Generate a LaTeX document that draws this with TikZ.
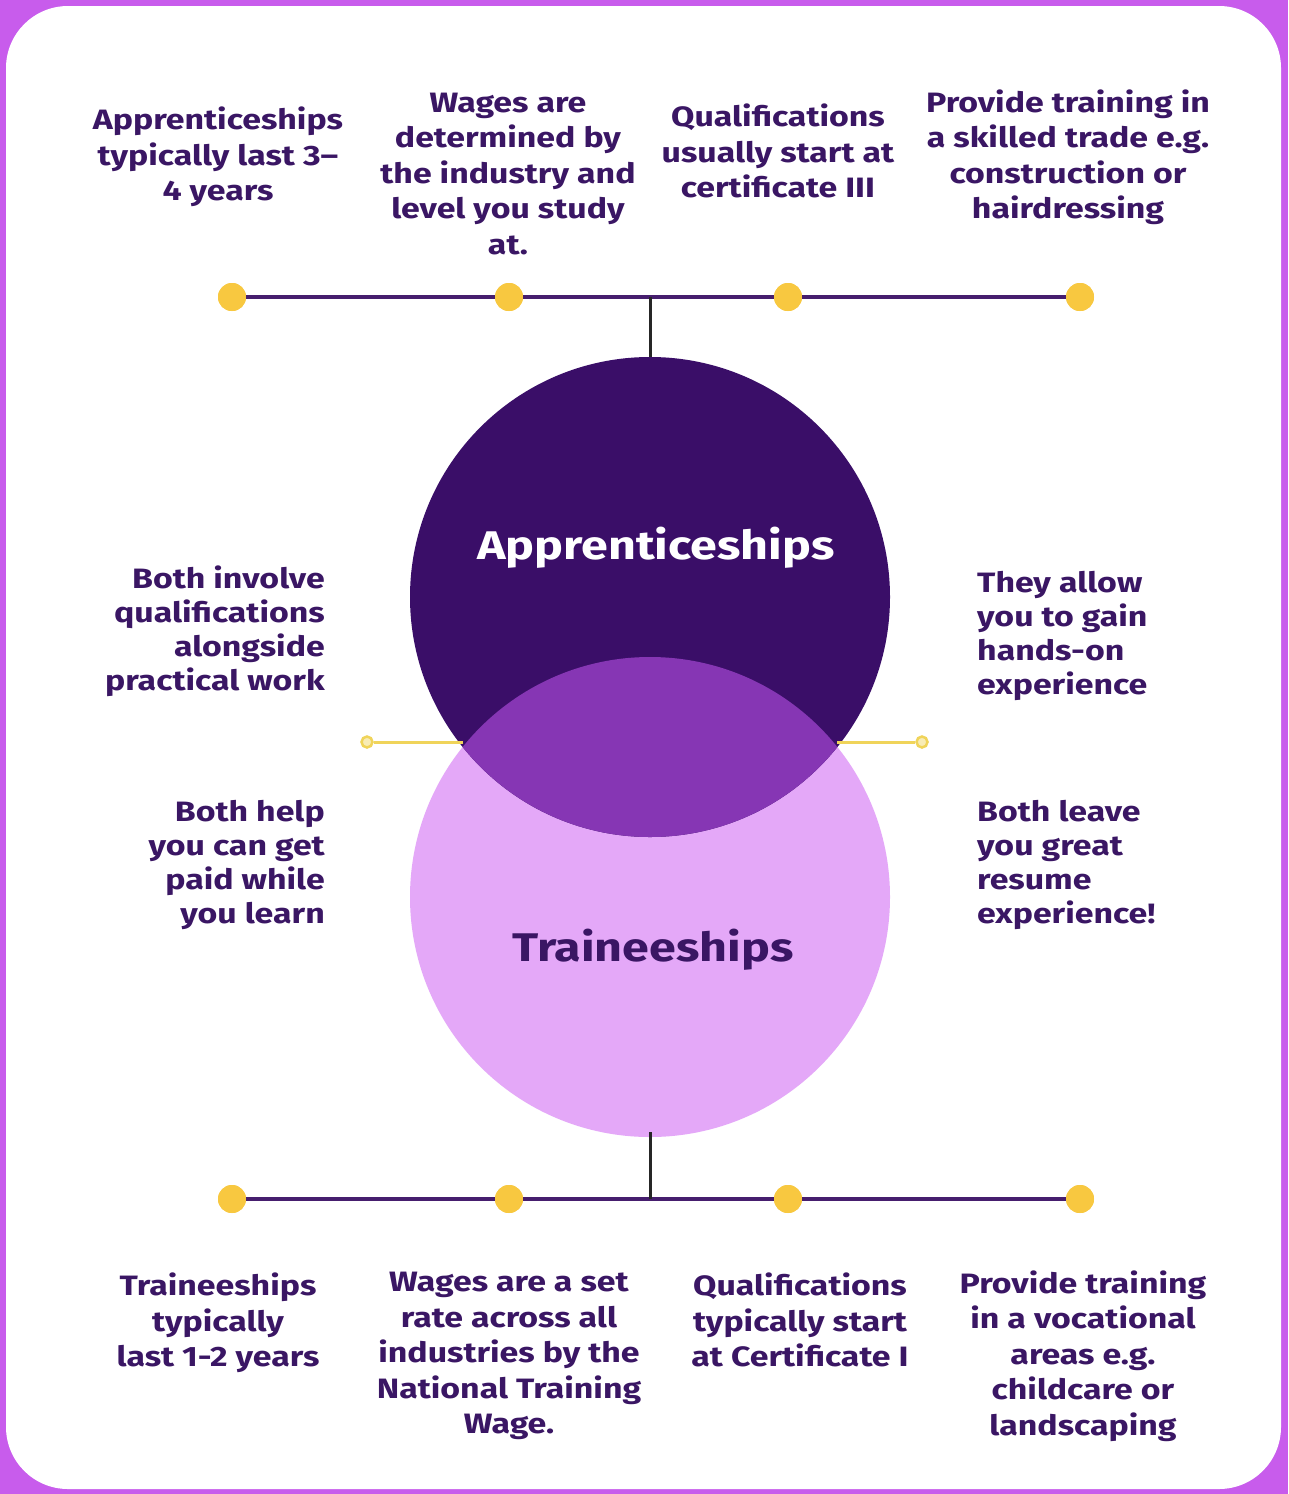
\documentclass[tikz,border=0pt]{standalone}
\usepackage{fontspec}
\setmainfont{Fira Sans}[FakeStretch=1.21]
\begin{document}
\begin{tikzpicture}[x=1pt,y=-1pt,
  txt/.style={text=ink, font=\bfseries\fontsize{28}{35.5}\selectfont, inner sep=0pt, align=center},
  sidetxt/.style={text=ink, font=\bfseries\fontsize{28}{34}\selectfont, inner sep=0pt},
  dot/.style={circle, fill=dotyellow, inner sep=0pt, minimum size=28pt},
  smalldot/.style={circle, draw=sideyellow, fill=sideyellow!45, line width=2.5pt, inner sep=0pt, minimum size=11pt},
  hline/.style={draw=linepurple, line width=4pt},
  vline/.style={draw=black!85, line width=3pt},
  sline/.style={draw=sideyellow, line width=3pt}
]
\definecolor{bgpurple}{RGB}{200,92,236}
\definecolor{ink}{RGB}{58,22,100}
\definecolor{dotyellow}{RGB}{248,200,64}
\definecolor{sideyellow}{RGB}{240,212,90}
\definecolor{linepurple}{RGB}{70,30,110}
\definecolor{darkcirc}{RGB}{58,14,104}
\definecolor{midcirc}{RGB}{134,54,180}
\definecolor{lightcirc}{RGB}{228,168,248}

% background
\fill[bgpurple] (0,0) rectangle (1288,1494);
\fill[white, rounded corners=62pt] (6,6) rectangle (1281,1489);
\useasboundingbox (0,0) rectangle (1288,1494);

% circles
\node[circle, fill=lightcirc, minimum size=480pt, inner sep=0pt] (trn) at (650,897) {};
\node[circle, fill=darkcirc, minimum size=480pt, inner sep=0pt] (app) at (650,597) {};
\begin{scope}
  \clip (650,597) circle (240pt);
  \fill[midcirc] (650,897) circle (240pt);
\end{scope}
\node[text=white, font=\bfseries\fontsize{40}{48}\selectfont, inner sep=0pt] (applbl) at (656,548) {Apprenticeships};
\node[text=ink, font=\bfseries\fontsize{40}{48}\selectfont, inner sep=0pt] (trnlbl) at (653,950) {Traineeships};

% top timeline
\node[dot] (t1) at (232,297) {};
\node[dot] (t2) at (509,297) {};
\node[dot] (t3) at (788,297) {};
\node[dot] (t4) at (1080,297) {};
\coordinate (tj) at (650,297);
\path[hline] (t1) -- (t2) -- (t3) -- (t4);
\path[vline] (tj) -- (app.north);
\node[dot] at (t1) {};
\node[dot] at (t2) {};
\node[dot] at (t3) {};
\node[dot] at (t4) {};

% bottom timeline
\node[dot] (b1) at (232,1199) {};
\node[dot] (b2) at (509,1199) {};
\node[dot] (b3) at (788,1199) {};
\node[dot] (b4) at (1080,1199) {};
\coordinate (bj) at (650,1199);
\path[hline] (b1) -- (b2) -- (b3) -- (b4);
\path[vline] (bj) -- (650,1132);
\node[dot] at (b1) {};
\node[dot] at (b2) {};
\node[dot] at (b3) {};
\node[dot] at (b4) {};

% side connectors
\coordinate (li) at (463,742);
\coordinate (ri) at (837,742);
\node[smalldot] (lc) at (367,742) {};
\node[smalldot] (rc) at (922,742) {};
\path[sline] (lc) -- (li);
\path[sline] (ri) -- (rc);

% top texts
\node[txt] (tt1) at (218,157) {Apprenticeships\\typically last 3--\\4 years};
\node[txt] (tt2) at (508,174) {Wages are\\determined by\\the industry and\\level you study\\at.};
\node[txt] (tt3) at (778,151) {Qualifications\\usually start at\\certificate III};
\node[txt] (tt4) at (1068,157) {Provide training in\\a skilled trade e.g.\\construction or\\hairdressing};

% side texts
\node[sidetxt, align=right, anchor=east] (sl1) at (325,631) {Both involve\\qualifications\\alongside\\practical work};
\node[sidetxt, align=right, anchor=east] (sl2) at (325,865) {Both help\\you can get\\paid while\\you learn};
\node[sidetxt, align=left, anchor=west] (sr1) at (977,636) {They allow\\you to gain\\hands-on\\experience};
\node[sidetxt, align=left, anchor=west] (sr2) at (977,865) {Both leave\\you great\\resume\\experience!};

% bottom texts
\node[txt] (bt1) at (218,1323) {Traineeships\\typically\\last 1-2 years};
\node[txt] (bt2) at (509,1356) {Wages are a set\\rate across all\\industries by the\\National Training\\Wage.};
\node[txt] (bt3) at (800,1320) {Qualifications\\typically start\\at Certificate I};
\node[txt] (bt4) at (1083,1356) {Provide training\\in a vocational\\areas e.g.\\childcare or\\landscaping};
\end{tikzpicture}
\end{document}
